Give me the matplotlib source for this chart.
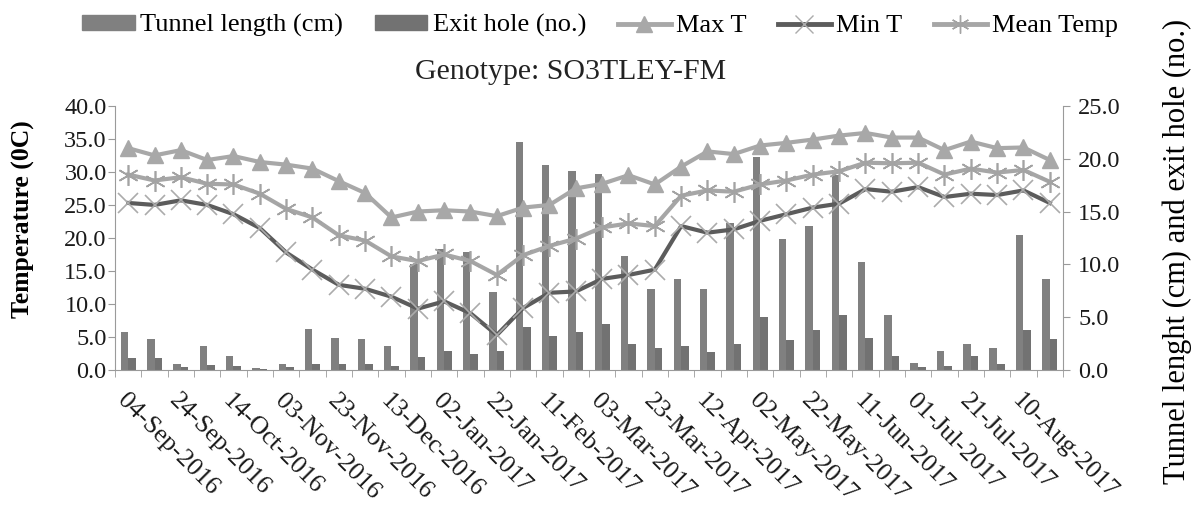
import numpy as np
import matplotlib.pyplot as plt
from matplotlib.patches import Patch
from matplotlib.lines import Line2D

plt.rcParams['font.family'] = ['Liberation Serif', 'DejaVu Serif']

# --- data: 10-day intervals, Sep 2016 - Aug 2017 ---
dates = ['04-Sep-2016', '14-Sep-2016', '24-Sep-2016', '04-Oct-2016', '14-Oct-2016',
         '24-Oct-2016', '03-Nov-2016', '13-Nov-2016', '23-Nov-2016', '03-Dec-2016',
         '13-Dec-2016', '23-Dec-2016', '02-Jan-2017', '12-Jan-2017', '22-Jan-2017',
         '01-Feb-2017', '11-Feb-2017', '21-Feb-2017', '03-Mar-2017', '13-Mar-2017',
         '23-Mar-2017', '02-Apr-2017', '12-Apr-2017', '22-Apr-2017', '02-May-2017',
         '12-May-2017', '22-May-2017', '01-Jun-2017', '11-Jun-2017', '21-Jun-2017',
         '01-Jul-2017', '11-Jul-2017', '21-Jul-2017', '31-Jul-2017', '10-Aug-2017',
         '20-Aug-2017']

tunnel = [3.6, 2.9, 0.6, 2.3, 1.35, 0.15, 0.6, 3.9, 3.0, 2.9,
          2.3, 10.0, 11.5, 11.2, 7.35, 21.6, 19.4, 18.8, 18.6, 10.8,
          7.7, 8.6, 7.7, 13.9, 20.2, 12.4, 13.6, 18.5, 10.2, 5.2,
          0.7, 1.8, 2.5, 2.1, 12.8, 8.6]
exit_hole = [1.1, 1.1, 0.25, 0.5, 0.35, 0.1, 0.25, 0.6, 0.6, 0.6,
             0.35, 1.2, 1.8, 1.5, 1.8, 4.1, 3.2, 3.6, 4.4, 2.5,
             2.1, 2.3, 1.75, 2.5, 5.0, 2.85, 3.8, 5.2, 3.0, 1.35,
             0.25, 0.35, 1.35, 0.6, 3.8, 2.9]

max_t = [33.6, 32.5, 33.3, 31.8, 32.4, 31.5, 31.1, 30.5, 28.6, 26.8,
         23.1, 24.0, 24.2, 24.0, 23.3, 24.6, 25.0, 27.5, 28.2, 29.5,
         28.1, 30.8, 33.1, 32.7, 34.0, 34.4, 34.9, 35.5, 35.9, 35.2,
         35.2, 33.3, 34.6, 33.6, 33.7, 31.8]
min_t = [25.3, 25.0, 25.7, 25.0, 23.6, 21.5, 17.8, 15.2, 12.9, 12.3,
         11.1, 9.3, 10.4, 8.6, 5.3, 9.4, 11.7, 11.9, 13.8, 14.4,
         15.2, 21.8, 20.8, 21.3, 22.6, 23.6, 24.6, 25.2, 27.4, 27.0,
         27.7, 26.2, 26.7, 26.5, 27.2, 25.3]
mean_t = [29.6, 28.7, 29.2, 28.2, 28.1, 26.7, 24.4, 23.1, 20.4, 19.6,
          17.2, 16.5, 17.5, 16.5, 14.4, 17.4, 18.8, 19.9, 21.6, 22.2,
          21.8, 26.4, 27.2, 27.0, 28.1, 28.7, 29.6, 30.1, 31.4, 31.3,
          31.4, 29.6, 30.5, 29.9, 30.3, 28.5]

x = np.arange(len(dates))

fig = plt.figure(figsize=(11.93, 5.19), dpi=100)
ax1 = fig.add_axes([0.0964, 0.287, 0.7946, 0.509])
ax2 = ax1.twinx()

# bars on the secondary axis, lines kept in front
ax1.set_zorder(ax2.get_zorder() + 1)
ax1.patch.set_visible(False)

bw = 0.29
tunnel_col = '#808080'
exit_col = '#727272'
ax2.bar(x - bw / 2, tunnel, width=bw, color=tunnel_col)
ax2.bar(x + bw / 2, exit_hole, width=bw, color=exit_col)

light = '#a8a8a8'
ax1.plot(x, max_t, color=light, lw=3, marker='^', ms=12, mfc=light, mec=light)
ax1.plot(x, min_t, color='#5c5c5c', lw=3, marker='x', ms=15,
         mec='#ababab', mew=1.2)
ax1.plot(x, mean_t, color='#a6a6a6', lw=3, marker=(6, 2, 0), ms=15,
         mec='#a3a3a3', mew=1.2)

ax1.set_xlim(-0.5, len(dates) - 0.5)
ax1.set_ylim(0, 40)
ax2.set_ylim(0, 25)
ax1.set_yticks(np.arange(0, 40.1, 5))
ax2.set_yticks(np.arange(0, 25.1, 5))
ax1.yaxis.set_major_formatter(plt.FormatStrFormatter('%.1f'))
ax2.yaxis.set_major_formatter(plt.FormatStrFormatter('%.1f'))

# category-boundary ticks, dates on every second category
ax1.set_xticks(np.arange(-0.5, len(dates), 1.0), minor=True)
ax1.set_xticks(x[::2])
ax1.set_xticklabels(dates[::2], rotation=-45, ha='left', va='top',
                    rotation_mode='anchor', fontsize=18.5, color='#1a1a1a')
ax1.tick_params(axis='x', which='major', length=0, pad=14)
ax1.tick_params(axis='x', which='minor', length=5, color='#9a9a9a')

ax1.tick_params(axis='y', length=5, color='#9a9a9a', labelsize=17.5, pad=1,
                labelcolor='#1a1a1a')
ax2.tick_params(axis='y', length=5, color='#9a9a9a', labelsize=17.5, pad=6,
                labelcolor='#1a1a1a')

for a in (ax1, ax2):
    a.spines['top'].set_visible(False)
    for s in ('left', 'right', 'bottom'):
        a.spines[s].set_color('#9a9a9a')
ax1.spines['right'].set_visible(False)
ax2.spines['left'].set_visible(False)
ax2.spines['bottom'].set_visible(False)

ax1.set_ylabel('Temperature (0C)', fontsize=18.5, fontweight='bold')
ax1.yaxis.set_label_coords(-0.084, 0.57)
ax2.set_ylabel('Tunnel lenght (cm) and exit hole (no.)', fontsize=22)
ax2.yaxis.set_label_coords(1.105, 0.45)

fig.text(0.478, 0.862, 'Genotype: SO3TLEY-FM', ha='center', va='center',
         fontsize=21.5, color='#222222')

handles = [
    Patch(color=tunnel_col, label='Tunnel length (cm)'),
    Patch(color=exit_col, label='Exit hole (no.)'),
    Line2D([], [], color=light, lw=3.5, marker='^', ms=11, label='Max T'),
    Line2D([], [], color='#5c5c5c', lw=3.5, marker='x', ms=13,
           mec='#ababab', label='Min T'),
    Line2D([], [], color='#a6a6a6', lw=3.5, marker=(6, 2, 0), ms=13,
           mec='#a3a3a3', label='Mean Temp'),
]
fig.legend(handles=handles, loc='center', bbox_to_anchor=(0.503, 0.95), ncol=5,
           frameon=False, fontsize=19, handlelength=2.0, handleheight=0.5,
           handletextpad=0.2, columnspacing=1.2)

fig.savefig('out.png', dpi=100)
